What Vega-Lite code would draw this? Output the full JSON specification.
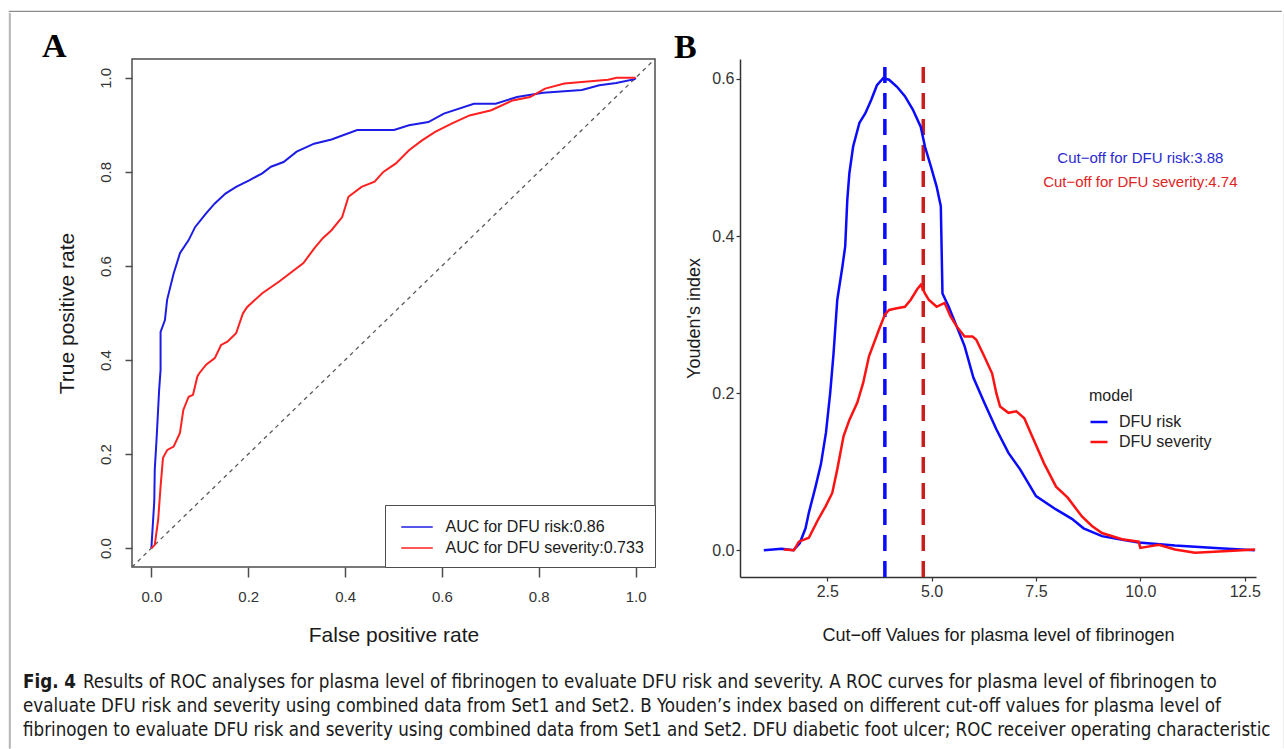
{
  "$schema": "https://vega.github.io/schema/vega-lite/v6.json",
  "padding": {"left": 8, "top": 10, "right": 4, "bottom": 4},
  "background": "white",
  "datasets": {
    "caption": [
      {"part": "fig", "line": 1, "text": "Fig. 4"},
      {"part": "first", "line": 1, "text": "Results of ROC analyses for plasma level of fibrinogen to evaluate DFU risk and severity. A ROC curves for plasma level of fibrinogen to"},
      {"part": "body", "line": 2, "text": "evaluate DFU risk and severity using combined data from Set1 and Set2. B Youden’s index based on different cut-off values for plasma level of"},
      {"part": "body", "line": 3, "text": "fibrinogen to evaluate DFU risk and severity using combined data from Set1 and Set2. DFU diabetic foot ulcer; ROC receiver operating characteristic"}
    ],
    "blank": [{}],
    "diag": [{"fpr": -0.04, "tpr": -0.04}, {"fpr": 1.04, "tpr": 1.04}],
    "roc": [
      {"model": "DFU risk", "i": 0, "fpr": 0, "tpr": 0},
      {"model": "DFU risk", "i": 1, "fpr": 0.006, "tpr": 0.1},
      {"model": "DFU risk", "i": 2, "fpr": 0.007, "tpr": 0.167},
      {"model": "DFU risk", "i": 3, "fpr": 0.011, "tpr": 0.237},
      {"model": "DFU risk", "i": 4, "fpr": 0.016, "tpr": 0.336},
      {"model": "DFU risk", "i": 5, "fpr": 0.019, "tpr": 0.379},
      {"model": "DFU risk", "i": 6, "fpr": 0.019, "tpr": 0.46},
      {"model": "DFU risk", "i": 7, "fpr": 0.028, "tpr": 0.485},
      {"model": "DFU risk", "i": 8, "fpr": 0.0325, "tpr": 0.528},
      {"model": "DFU risk", "i": 9, "fpr": 0.046, "tpr": 0.584},
      {"model": "DFU risk", "i": 10, "fpr": 0.059, "tpr": 0.627},
      {"model": "DFU risk", "i": 11, "fpr": 0.077, "tpr": 0.655},
      {"model": "DFU risk", "i": 12, "fpr": 0.0905, "tpr": 0.683},
      {"model": "DFU risk", "i": 13, "fpr": 0.113, "tpr": 0.712},
      {"model": "DFU risk", "i": 14, "fpr": 0.131, "tpr": 0.733},
      {"model": "DFU risk", "i": 15, "fpr": 0.153, "tpr": 0.754},
      {"model": "DFU risk", "i": 16, "fpr": 0.175, "tpr": 0.768},
      {"model": "DFU risk", "i": 17, "fpr": 0.202, "tpr": 0.782},
      {"model": "DFU risk", "i": 18, "fpr": 0.229, "tpr": 0.797},
      {"model": "DFU risk", "i": 19, "fpr": 0.247, "tpr": 0.811},
      {"model": "DFU risk", "i": 20, "fpr": 0.273, "tpr": 0.821},
      {"model": "DFU risk", "i": 21, "fpr": 0.3, "tpr": 0.843},
      {"model": "DFU risk", "i": 22, "fpr": 0.336, "tpr": 0.86},
      {"model": "DFU risk", "i": 23, "fpr": 0.372, "tpr": 0.869},
      {"model": "DFU risk", "i": 24, "fpr": 0.425, "tpr": 0.889},
      {"model": "DFU risk", "i": 25, "fpr": 0.501, "tpr": 0.889},
      {"model": "DFU risk", "i": 26, "fpr": 0.532, "tpr": 0.899},
      {"model": "DFU risk", "i": 27, "fpr": 0.572, "tpr": 0.906},
      {"model": "DFU risk", "i": 28, "fpr": 0.604, "tpr": 0.924},
      {"model": "DFU risk", "i": 29, "fpr": 0.666, "tpr": 0.945},
      {"model": "DFU risk", "i": 30, "fpr": 0.711, "tpr": 0.945},
      {"model": "DFU risk", "i": 31, "fpr": 0.755, "tpr": 0.959},
      {"model": "DFU risk", "i": 32, "fpr": 0.809, "tpr": 0.968},
      {"model": "DFU risk", "i": 33, "fpr": 0.889, "tpr": 0.974},
      {"model": "DFU risk", "i": 34, "fpr": 0.925, "tpr": 0.984},
      {"model": "DFU risk", "i": 35, "fpr": 0.96, "tpr": 0.989},
      {"model": "DFU risk", "i": 36, "fpr": 0.998, "tpr": 0.997},
      {"model": "DFU risk", "i": 37, "fpr": 1, "tpr": 1},
      {"model": "DFU severity", "i": 0, "fpr": 0, "tpr": 0},
      {"model": "DFU severity", "i": 1, "fpr": 0.007, "tpr": 0.007},
      {"model": "DFU severity", "i": 2, "fpr": 0.014, "tpr": 0.06},
      {"model": "DFU severity", "i": 3, "fpr": 0.019, "tpr": 0.131},
      {"model": "DFU severity", "i": 4, "fpr": 0.024, "tpr": 0.192},
      {"model": "DFU severity", "i": 5, "fpr": 0.033, "tpr": 0.209},
      {"model": "DFU severity", "i": 6, "fpr": 0.046, "tpr": 0.216},
      {"model": "DFU severity", "i": 7, "fpr": 0.059, "tpr": 0.245},
      {"model": "DFU severity", "i": 8, "fpr": 0.066, "tpr": 0.294},
      {"model": "DFU severity", "i": 9, "fpr": 0.077, "tpr": 0.322},
      {"model": "DFU severity", "i": 10, "fpr": 0.086, "tpr": 0.326},
      {"model": "DFU severity", "i": 11, "fpr": 0.095, "tpr": 0.365},
      {"model": "DFU severity", "i": 12, "fpr": 0.099, "tpr": 0.372},
      {"model": "DFU severity", "i": 13, "fpr": 0.113, "tpr": 0.39},
      {"model": "DFU severity", "i": 14, "fpr": 0.131, "tpr": 0.404},
      {"model": "DFU severity", "i": 15, "fpr": 0.144, "tpr": 0.432},
      {"model": "DFU severity", "i": 16, "fpr": 0.157, "tpr": 0.439},
      {"model": "DFU severity", "i": 17, "fpr": 0.175, "tpr": 0.457},
      {"model": "DFU severity", "i": 18, "fpr": 0.189, "tpr": 0.499},
      {"model": "DFU severity", "i": 19, "fpr": 0.198, "tpr": 0.513},
      {"model": "DFU severity", "i": 20, "fpr": 0.229, "tpr": 0.542},
      {"model": "DFU severity", "i": 21, "fpr": 0.264, "tpr": 0.567},
      {"model": "DFU severity", "i": 22, "fpr": 0.314, "tpr": 0.606},
      {"model": "DFU severity", "i": 23, "fpr": 0.336, "tpr": 0.637},
      {"model": "DFU severity", "i": 24, "fpr": 0.354, "tpr": 0.659},
      {"model": "DFU severity", "i": 25, "fpr": 0.372, "tpr": 0.676},
      {"model": "DFU severity", "i": 26, "fpr": 0.394, "tpr": 0.704},
      {"model": "DFU severity", "i": 27, "fpr": 0.407, "tpr": 0.747},
      {"model": "DFU severity", "i": 28, "fpr": 0.434, "tpr": 0.768},
      {"model": "DFU severity", "i": 29, "fpr": 0.461, "tpr": 0.779},
      {"model": "DFU severity", "i": 30, "fpr": 0.479, "tpr": 0.8},
      {"model": "DFU severity", "i": 31, "fpr": 0.505, "tpr": 0.818},
      {"model": "DFU severity", "i": 32, "fpr": 0.532, "tpr": 0.846},
      {"model": "DFU severity", "i": 33, "fpr": 0.559, "tpr": 0.867},
      {"model": "DFU severity", "i": 34, "fpr": 0.586, "tpr": 0.885},
      {"model": "DFU severity", "i": 35, "fpr": 0.621, "tpr": 0.903},
      {"model": "DFU severity", "i": 36, "fpr": 0.657, "tpr": 0.92},
      {"model": "DFU severity", "i": 37, "fpr": 0.702, "tpr": 0.931},
      {"model": "DFU severity", "i": 38, "fpr": 0.746, "tpr": 0.952},
      {"model": "DFU severity", "i": 39, "fpr": 0.782, "tpr": 0.959},
      {"model": "DFU severity", "i": 40, "fpr": 0.813, "tpr": 0.977},
      {"model": "DFU severity", "i": 41, "fpr": 0.853, "tpr": 0.988},
      {"model": "DFU severity", "i": 42, "fpr": 0.889, "tpr": 0.991},
      {"model": "DFU severity", "i": 43, "fpr": 0.943, "tpr": 0.996},
      {"model": "DFU severity", "i": 44, "fpr": 0.961, "tpr": 1},
      {"model": "DFU severity", "i": 45, "fpr": 1, "tpr": 1}
    ],
    "youden": [
      {"model": "DFU risk", "cut": 0.98, "j": 0},
      {"model": "DFU risk", "cut": 1.41, "j": 0.002},
      {"model": "DFU risk", "cut": 1.69, "j": 0},
      {"model": "DFU risk", "cut": 1.84, "j": 0.009},
      {"model": "DFU risk", "cut": 1.98, "j": 0.028},
      {"model": "DFU risk", "cut": 2.06, "j": 0.048},
      {"model": "DFU risk", "cut": 2.22, "j": 0.081},
      {"model": "DFU risk", "cut": 2.35, "j": 0.11},
      {"model": "DFU risk", "cut": 2.47, "j": 0.15},
      {"model": "DFU risk", "cut": 2.57, "j": 0.2},
      {"model": "DFU risk", "cut": 2.65, "j": 0.25},
      {"model": "DFU risk", "cut": 2.74, "j": 0.319},
      {"model": "DFU risk", "cut": 2.86, "j": 0.36},
      {"model": "DFU risk", "cut": 2.93, "j": 0.387},
      {"model": "DFU risk", "cut": 2.98, "j": 0.446},
      {"model": "DFU risk", "cut": 3.03, "j": 0.48},
      {"model": "DFU risk", "cut": 3.12, "j": 0.514},
      {"model": "DFU risk", "cut": 3.27, "j": 0.544},
      {"model": "DFU risk", "cut": 3.41, "j": 0.556},
      {"model": "DFU risk", "cut": 3.55, "j": 0.573},
      {"model": "DFU risk", "cut": 3.69, "j": 0.592},
      {"model": "DFU risk", "cut": 3.84, "j": 0.601},
      {"model": "DFU risk", "cut": 3.98, "j": 0.599},
      {"model": "DFU risk", "cut": 4.17, "j": 0.59},
      {"model": "DFU risk", "cut": 4.36, "j": 0.578},
      {"model": "DFU risk", "cut": 4.55, "j": 0.561},
      {"model": "DFU risk", "cut": 4.74, "j": 0.539},
      {"model": "DFU risk", "cut": 4.84, "j": 0.514},
      {"model": "DFU risk", "cut": 4.98, "j": 0.489},
      {"model": "DFU risk", "cut": 5.12, "j": 0.463},
      {"model": "DFU risk", "cut": 5.22, "j": 0.438},
      {"model": "DFU risk", "cut": 5.26, "j": 0.327},
      {"model": "DFU risk", "cut": 5.41, "j": 0.31},
      {"model": "DFU risk", "cut": 5.6, "j": 0.285},
      {"model": "DFU risk", "cut": 5.79, "j": 0.26},
      {"model": "DFU risk", "cut": 6.0, "j": 0.22},
      {"model": "DFU risk", "cut": 6.26, "j": 0.188},
      {"model": "DFU risk", "cut": 6.55, "j": 0.154},
      {"model": "DFU risk", "cut": 6.84, "j": 0.124},
      {"model": "DFU risk", "cut": 7.12, "j": 0.103},
      {"model": "DFU risk", "cut": 7.5, "j": 0.069},
      {"model": "DFU risk", "cut": 7.98, "j": 0.052},
      {"model": "DFU risk", "cut": 8.36, "j": 0.04},
      {"model": "DFU risk", "cut": 8.64, "j": 0.028},
      {"model": "DFU risk", "cut": 9.08, "j": 0.018},
      {"model": "DFU risk", "cut": 9.5, "j": 0.014},
      {"model": "DFU risk", "cut": 9.96, "j": 0.01},
      {"model": "DFU risk", "cut": 10.83, "j": 0.006},
      {"model": "DFU risk", "cut": 11.79, "j": 0.003},
      {"model": "DFU risk", "cut": 12.74, "j": 0},
      {"model": "DFU severity", "cut": 1.46, "j": 0.001},
      {"model": "DFU severity", "cut": 1.7, "j": 0},
      {"model": "DFU severity", "cut": 1.82, "j": 0.011},
      {"model": "DFU severity", "cut": 2.06, "j": 0.016},
      {"model": "DFU severity", "cut": 2.26, "j": 0.037},
      {"model": "DFU severity", "cut": 2.46, "j": 0.056},
      {"model": "DFU severity", "cut": 2.62, "j": 0.073},
      {"model": "DFU severity", "cut": 2.74, "j": 0.103},
      {"model": "DFU severity", "cut": 2.89, "j": 0.145},
      {"model": "DFU severity", "cut": 3.03, "j": 0.166},
      {"model": "DFU severity", "cut": 3.22, "j": 0.188},
      {"model": "DFU severity", "cut": 3.36, "j": 0.213},
      {"model": "DFU severity", "cut": 3.5, "j": 0.247},
      {"model": "DFU severity", "cut": 3.74, "j": 0.281},
      {"model": "DFU severity", "cut": 3.88, "j": 0.3},
      {"model": "DFU severity", "cut": 3.98, "j": 0.306},
      {"model": "DFU severity", "cut": 4.17, "j": 0.308},
      {"model": "DFU severity", "cut": 4.36, "j": 0.31},
      {"model": "DFU severity", "cut": 4.5, "j": 0.319},
      {"model": "DFU severity", "cut": 4.65, "j": 0.332},
      {"model": "DFU severity", "cut": 4.74, "j": 0.338},
      {"model": "DFU severity", "cut": 4.84, "j": 0.327},
      {"model": "DFU severity", "cut": 4.93, "j": 0.319},
      {"model": "DFU severity", "cut": 5.12, "j": 0.31},
      {"model": "DFU severity", "cut": 5.31, "j": 0.315},
      {"model": "DFU severity", "cut": 5.45, "j": 0.298},
      {"model": "DFU severity", "cut": 5.6, "j": 0.285},
      {"model": "DFU severity", "cut": 5.79, "j": 0.272},
      {"model": "DFU severity", "cut": 5.98, "j": 0.272},
      {"model": "DFU severity", "cut": 6.07, "j": 0.268},
      {"model": "DFU severity", "cut": 6.26, "j": 0.247},
      {"model": "DFU severity", "cut": 6.45, "j": 0.225},
      {"model": "DFU severity", "cut": 6.55, "j": 0.2},
      {"model": "DFU severity", "cut": 6.64, "j": 0.183},
      {"model": "DFU severity", "cut": 6.84, "j": 0.175},
      {"model": "DFU severity", "cut": 7.03, "j": 0.177},
      {"model": "DFU severity", "cut": 7.22, "j": 0.168},
      {"model": "DFU severity", "cut": 7.41, "j": 0.145},
      {"model": "DFU severity", "cut": 7.69, "j": 0.111},
      {"model": "DFU severity", "cut": 7.98, "j": 0.081},
      {"model": "DFU severity", "cut": 8.26, "j": 0.067},
      {"model": "DFU severity", "cut": 8.6, "j": 0.043},
      {"model": "DFU severity", "cut": 8.84, "j": 0.031},
      {"model": "DFU severity", "cut": 9.08, "j": 0.022},
      {"model": "DFU severity", "cut": 9.56, "j": 0.014},
      {"model": "DFU severity", "cut": 9.96, "j": 0.011},
      {"model": "DFU severity", "cut": 10.0, "j": 0.003},
      {"model": "DFU severity", "cut": 10.44, "j": 0.007},
      {"model": "DFU severity", "cut": 10.83, "j": 0.001},
      {"model": "DFU severity", "cut": 11.31, "j": -0.003},
      {"model": "DFU severity", "cut": 12.11, "j": -0.001},
      {"model": "DFU severity", "cut": 12.75, "j": 0.001}
    ],
    "cutoffs": [
      {"model": "DFU risk", "cut": 3.88, "lo": -0.034, "hi": 0.6254},
      {"model": "DFU severity", "cut": 4.8, "lo": -0.034, "hi": 0.6254}
    ],
    "notes": [
      {"model": "DFU risk", "cut": 10.0, "j": 0.5, "label": "Cut−off for DFU risk:3.88"},
      {"model": "DFU severity", "cut": 10.0, "j": 0.469, "label": "Cut−off for DFU severity:4.74"}
    ]
  },
  "spacing": 0,
  "vconcat": [
    {"width": 1272, "height": 0.01, "view": {"stroke": "#8c8c8c", "strokeWidth": 1.2}, "data": {"name": "blank"}, "mark": {"type": "rect", "opacity": 0}},
    {
      "spacing": 12,
      "hconcat": [
        {"width": 1, "height": 735, "view": {"stroke": "#9a9a9a", "strokeWidth": 0.8}, "data": {"name": "blank"}, "mark": {"type": "rect", "opacity": 0}},
        {
          "spacing": 15,
          "vconcat": [
            {"width": 0.01, "height": 0.01, "data": {"name": "blank"}, "mark": {"type": "rect", "opacity": 0}},
            {
              "spacing": 15,
              "resolve": {"scale": {"x": "independent", "y": "independent", "color": "independent"}, "legend": {"color": "independent"}},
              "hconcat": [
                {
                  "width": 523,
                  "height": 508,
                  "view": {"stroke": "#4d4d4d", "strokeWidth": 1.5},
                  "title": {"text": "A", "anchor": "start", "frame": "group", "dx": -90, "font": "Liberation Serif", "fontSize": 34, "fontWeight": "bold", "color": "#000000", "baseline": "alphabetic", "offset": -35},
                  "encoding": {
                    "x": {"field": "fpr", "type": "quantitative", "scale": {"domain": [-0.04, 1.04], "nice": false, "zero": false},
                      "axis": {"values": [0, 0.2, 0.4, 0.6, 0.8, 1], "format": ".1f", "domain": false, "tickSize": 10, "tickColor": "#4d4d4d", "tickWidth": 1.5, "labelFontSize": 15, "labelPadding": 12, "labelColor": "#333333", "labelFlush": false, "labelOverlap": false, "title": "False positive rate", "titleFontSize": 21, "titlePadding": 20, "titleColor": "#1a1a1a"}},
                    "y": {"field": "tpr", "type": "quantitative", "scale": {"domain": [-0.04, 1.04], "nice": false, "zero": false},
                      "axis": {"values": [0, 0.2, 0.4, 0.6, 0.8, 1], "format": ".1f", "domain": false, "tickSize": 7, "tickColor": "#4d4d4d", "tickWidth": 1.5, "labelFontSize": 15, "labelAngle": 270, "labelAlign": "center", "labelBaseline": "bottom", "labelPadding": 12, "labelColor": "#333333", "labelFlush": false, "labelOverlap": false, "title": "True positive rate", "titleFontSize": 21, "titlePadding": 21, "titleColor": "#1a1a1a"}}
                  },
                  "layer": [
                    {
                      "data": {"name": "diag"},
                      "mark": {"type": "line", "strokeDash": [4, 4], "color": "#5a5a5a", "strokeWidth": 1.3}
                    },
                    {
                      "data": {"name": "roc"},
                      "mark": {"type": "line", "strokeWidth": 2},
                      "encoding": {
                        "color": {"field": "model", "type": "nominal", "scale": {"domain": ["DFU risk", "DFU severity"], "range": ["#1c1ce6", "#ff2020"]},
                          "legend": {"title": null, "orient": "bottom-right", "offset": 0, "strokeColor": "#4d4d4d", "fillColor": "white", "padding": 10.5, "symbolType": "M-1.5,0H1.5", "symbolSize": 441, "symbolStrokeWidth": 1.5, "symbolOffset": 10, "labelFontSize": 16, "labelOffset": 17, "rowPadding": 1, "labelColor": "#1a1a1a", "labelLimit": 400,
                            "labelExpr": "datum.label == 'DFU risk' ? 'AUC for DFU risk:0.86' : 'AUC for DFU severity:0.733'"}},
                        "order": {"field": "i", "type": "quantitative"}
                      }
                    }
                  ]
                },
                {
                  "width": 516,
                  "height": 518,
                  "title": {"text": "B", "anchor": "start", "frame": "group", "dx": -66, "font": "Liberation Serif", "fontSize": 34, "fontWeight": "bold", "color": "#000000", "baseline": "alphabetic", "offset": -35},
                  "layer": [
                    {
                      "data": {"name": "cutoffs"},
                      "transform": [{"filter": "datum.model == 'DFU risk'"}],
                      "mark": {"type": "rule", "strokeDash": [16, 10], "strokeWidth": 3.5, "color": "#0a0aff"},
                      "encoding": {
                        "x": {"field": "cut", "type": "quantitative", "scale": {"domain": [0.41, 12.77], "nice": false, "zero": false},
                          "axis": {"values": [2.5, 5, 7.5, 10, 12.5], "format": ".1f", "domainColor": "#333333", "domainWidth": 1.5, "tickColor": "#333333", "tickSize": 4, "tickWidth": 1.2, "labelFontSize": 16, "labelColor": "#333333", "labelPadding": 2, "labelFlush": false, "labelOverlap": false, "title": "Cut−off Values for plasma level of fibrinogen", "titleFontSize": 18, "titlePadding": 27, "titleColor": "#1a1a1a"}},
                        "y": {"field": "lo", "type": "quantitative", "scale": {"domain": [-0.034, 0.6254], "nice": false, "zero": false},
                          "axis": {"values": [0, 0.2, 0.4, 0.6], "format": ".1f", "domainColor": "#333333", "domainWidth": 1.5, "tickColor": "#333333", "tickSize": 4, "tickWidth": 1.2, "labelFontSize": 16, "labelColor": "#333333", "labelPadding": 2, "labelFlush": false, "labelOverlap": false, "title": "Youden's index", "titleFontSize": 18, "titlePadding": 8, "titleColor": "#1a1a1a"}},
                        "y2": {"field": "hi"}
                      }
                    },
                    {
                      "data": {"name": "cutoffs"},
                      "transform": [{"filter": "datum.model == 'DFU severity'"}],
                      "mark": {"type": "rule", "strokeDash": [16, 10], "strokeWidth": 3.5, "color": "#c81e1e"},
                      "encoding": {
                        "x": {"field": "cut", "type": "quantitative"},
                        "y": {"field": "lo", "type": "quantitative"},
                        "y2": {"field": "hi"}
                      }
                    },
                    {
                      "data": {"name": "youden"},
                      "mark": {"type": "line", "strokeWidth": 2.5},
                      "encoding": {
                        "x": {"field": "cut", "type": "quantitative"},
                        "y": {"field": "j", "type": "quantitative"},
                        "color": {"field": "model", "type": "nominal", "scale": {"domain": ["DFU risk", "DFU severity"], "range": ["#0a0aff", "#ff1212"]},
                          "legend": {"title": "model", "orient": "none", "legendX": 349, "legendY": 329, "titleFontSize": 16, "titleFontWeight": "normal", "titleColor": "#222222", "titlePadding": 8, "labelFontSize": 16, "labelColor": "#222222", "symbolType": "stroke", "symbolSize": 289, "symbolStrokeWidth": 2.5, "labelOffset": 10, "rowPadding": 2}}
                      }
                    },
                    {
                      "data": {"name": "notes"},
                      "transform": [{"filter": "datum.model == 'DFU risk'"}],
                      "mark": {"type": "text", "fontSize": 15, "align": "center", "baseline": "middle", "color": "#2a2ad0"},
                      "encoding": {
                        "x": {"field": "cut", "type": "quantitative"},
                        "y": {"field": "j", "type": "quantitative"},
                        "text": {"field": "label"}
                      }
                    },
                    {
                      "data": {"name": "notes"},
                      "transform": [{"filter": "datum.model == 'DFU severity'"}],
                      "mark": {"type": "text", "fontSize": 15, "align": "center", "baseline": "middle", "color": "#e02424"},
                      "encoding": {
                        "x": {"field": "cut", "type": "quantitative"},
                        "y": {"field": "j", "type": "quantitative"},
                        "text": {"field": "label"}
                      }
                    }
                  ]
                }
              ]
            },
            {
              "width": 1137,
              "height": 84,
              "layer": [
                {
                  "data": {"name": "caption"},
                  "transform": [{"filter": "datum.part == 'fig'"}],
                  "mark": {"type": "text", "align": "left", "baseline": "middle", "font": "DejaVu Sans Condensed, Liberation Sans", "fontSize": 18.6, "fontWeight": "bold", "color": "#1a1a1a"},
                  "encoding": {
                    "x": {"value": -109},
                    "y": {"field": "line", "type": "ordinal", "scale": {"type": "point", "domain": [1, 2, 3], "range": [21, 69], "padding": 0}, "axis": null},
                    "text": {"field": "text"}
                  }
                },
                {
                  "data": {"name": "caption"},
                  "transform": [{"filter": "datum.part == 'first'"}],
                  "mark": {"type": "text", "align": "left", "baseline": "middle", "font": "DejaVu Sans Condensed, Liberation Sans", "fontSize": 18.6, "color": "#1a1a1a"},
                  "encoding": {
                    "x": {"value": -49},
                    "y": {"field": "line", "type": "ordinal", "axis": null},
                    "text": {"field": "text"}
                  }
                },
                {
                  "data": {"name": "caption"},
                  "transform": [{"filter": "datum.part == 'body'"}],
                  "mark": {"type": "text", "align": "left", "baseline": "middle", "font": "DejaVu Sans Condensed, Liberation Sans", "fontSize": 18.6, "color": "#1a1a1a"},
                  "encoding": {
                    "x": {"value": -109},
                    "y": {"field": "line", "type": "ordinal", "axis": null},
                    "text": {"field": "text"}
                  }
                }
              ]
            }
          ]
        },
        {"width": 1, "height": 735, "view": {"stroke": "#9a9a9a", "strokeWidth": 0.8}, "data": {"name": "blank"}, "mark": {"type": "rect", "opacity": 0}}
      ]
    },
    {"width": 1272, "height": 0.01, "view": {"stroke": "#8c8c8c", "strokeWidth": 1.2}, "data": {"name": "blank"}, "mark": {"type": "rect", "opacity": 0}}
  ],
  "config": {
    "font": "Liberation Sans",
    "view": {"stroke": null},
    "axis": {"grid": false, "titleFontWeight": "normal", "labelFont": "Liberation Sans", "titleFont": "Liberation Sans"},
    "legend": {"labelFont": "Liberation Sans", "titleFont": "Liberation Sans"},
    "text": {"font": "Liberation Sans"}
  }
}
